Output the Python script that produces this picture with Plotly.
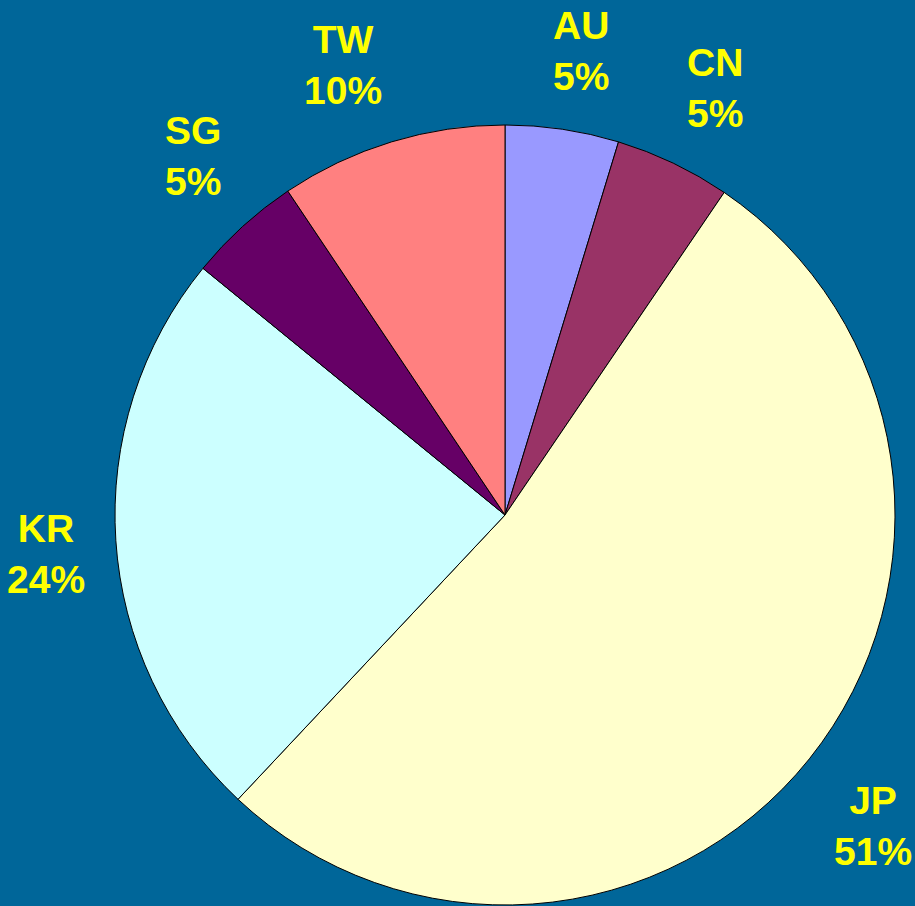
import math
import plotly.graph_objects as go

labels = ["AU", "CN", "JP", "KR", "SG", "TW"]
values = [4.7, 4.8, 52.5, 23.9, 4.7, 9.4]
pct_text = ["5%", "5%", "51%", "24%", "5%", "10%"]
colors = ["#9999FF", "#993366", "#FFFFCC", "#CCFFFF", "#660066", "#FF8080"]

W, H = 915, 906
cx, cy, r = 505, 515, 390
FS = 39

dom_x = [(cx - r) / W, (cx + r) / W]
dom_y = [(H - cy - r) / H, (H - cy + r) / H]

fig = go.Figure(go.Pie(
    labels=labels,
    values=values,
    sort=False,
    direction="clockwise",
    rotation=0,
    marker=dict(colors=colors, line=dict(color="#000000", width=1)),
    textinfo="none",
    hoverinfo="label+percent",
    showlegend=False,
    domain=dict(x=dom_x, y=dom_y),
))

# approximate Arial-bold advance widths (em) to size the label boxes
CW = {"A": .722, "U": .722, "C": .722, "N": .722, "J": .556, "P": .667,
      "K": .722, "R": .722, "S": .667, "G": .778, "T": .611, "W": .944,
      "%": .889}


def text_w(s):
    return sum(CW.get(ch, .556) for ch in s) * FS


def clip(v):
    return max(-1.0, min(1.0, v))


total = sum(values)
cum = 0
annotations = []
for lab, v, t in zip(labels, values, pct_text):
    mid = (cum + v / 2) / total * 2 * math.pi
    cum += v
    lr = r * 1.08
    s, c = math.sin(mid), math.cos(mid)
    px = cx + lr * s
    py = cy - lr * c
    bw = max(text_w(lab), text_w(t))
    bh = 95
    px += clip(3.5 * s) * bw / 2
    py -= clip(3.5 * c) * bh / 2
    annotations.append(dict(
        x=px / W, y=(H - py) / H, xref="paper", yref="paper",
        text=f"<b>{lab}<br>{t}</b>", showarrow=False,
        xanchor="center", yanchor="middle",
        font=dict(family="Liberation Sans, Arial", size=FS, color="#FFFF00"),
    ))

fig.update_layout(
    width=W, height=H,
    margin=dict(l=0, r=0, t=0, b=0),
    paper_bgcolor="#006699",
    plot_bgcolor="#006699",
    annotations=annotations,
)

fig.write_html(
    "out.html",
    config={"displayModeBar": False},
    post_script="document.body.style.margin='0';document.body.style.background='#006699';",
)
